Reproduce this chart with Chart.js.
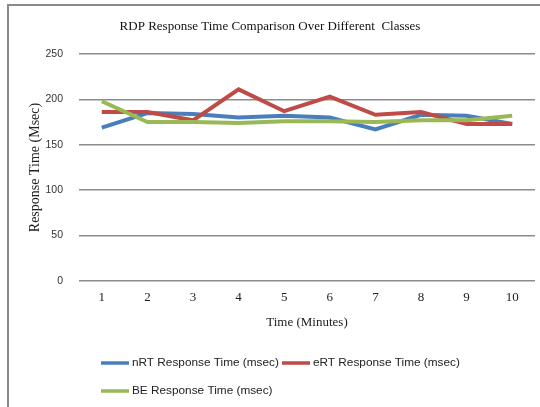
<!DOCTYPE html>
<html>
<head>
<meta charset="utf-8">
<script src="https://cdn.jsdelivr.net/npm/chart.js@4.4.1/dist/chart.umd.min.js"></script>
<style>
  html, body { margin: 0; padding: 0; background: #fff; }
  #wrap { position: relative; width: 540px; height: 407px; overflow: hidden; }
  #frame {
    position: absolute; left: 7px; top: 4px; width: 600px; height: 500px;
    border-left: 2px solid #8a8a8a; border-top: 2px solid #8a8a8a;
    box-sizing: border-box;
  }
  canvas { position: absolute; left: 0; top: 0; }
</style>
</head>
<body>
<div id="wrap">
  <div id="frame"></div>
  <canvas id="chart" width="540" height="407"></canvas>
</div>
<script>
/* ===============================
   Data
================================ */
const minutes = ["1", "2", "3", "4", "5", "6", "7", "8", "9", "10"];
const nrtTimes = [169, 185, 184, 180, 182, 180, 167, 183, 182, 173];
const ertTimes = [186, 186, 177, 211, 187, 203, 183, 186, 173, 173];
const beTimes  = [198, 175, 175, 174, 176, 176, 175, 177, 177, 182];
const yTicks   = [0, 50, 100, 150, 200, 250];

const chartTitle = "RDP Response Time Comparison Over Different  Classes";
const seriesNames = [
  "nRT Response Time (msec)",
  "eRT Response Time (msec)",
  "BE Response Time (msec)"
];

const SERIF = "'Liberation Serif', 'Times New Roman', serif";
const SANS = "'Liberation Sans', Arial, sans-serif";

/* ===============================
   Title + legend drawn by hand
================================ */
const decorPlugin = {
  id: "decor",
  afterDraw(chart) {
    const ctx = chart.ctx;
    ctx.save();

    // title
    ctx.font = "13px " + SERIF;
    ctx.fillStyle = "#111";
    ctx.textAlign = "center";
    ctx.textBaseline = "middle";
    ctx.fillText(chartTitle, 270, 27);

    // legend
    const spots = [
      { x: 101, y: 363 },
      { x: 282, y: 363 },
      { x: 101, y: 391 }
    ];
    ctx.font = "11.8px " + SANS;
    ctx.textAlign = "left";
    chart.data.datasets.forEach((ds, i) => {
      const p = spots[i];
      ctx.strokeStyle = ds.borderColor;
      ctx.lineWidth = 3.5;
      ctx.beginPath();
      ctx.moveTo(p.x, p.y);
      ctx.lineTo(p.x + 28, p.y);
      ctx.stroke();
      ctx.fillStyle = "#222";
      ctx.fillText(ds.label, p.x + 31, p.y);
    });

    ctx.restore();
  }
};

// later series sit on top, like the original
function lineSet(label, data, color, order) {
  return {
    label,
    data,
    order,
    borderColor: color,
    backgroundColor: color,
    borderWidth: 4,
    pointRadius: 0,
    tension: 0,
    fill: false
  };
}

new Chart(document.getElementById("chart"), {
  type: "line",
  data: {
    labels: minutes,
    datasets: [
      lineSet(seriesNames[0], nrtTimes, "#4a7ebb", 2),
      lineSet(seriesNames[1], ertTimes, "#be4b48", 1),
      lineSet(seriesNames[2], beTimes, "#98b954", 0)
    ]
  },
  options: {
    responsive: false,
    animation: false,
    layout: {
      padding: { left: 27, right: 5, top: 54, bottom: 77 }
    },
    plugins: {
      legend: { display: false },
      title: { display: false },
      tooltip: { enabled: false }
    },
    scales: {
      x: {
        offset: true,
        grid: { display: false, drawTicks: false },
        border: { display: false },
        ticks: {
          padding: 9,
          color: "#222",
          font: { family: SERIF, size: 13 }
        },
        title: {
          display: true,
          text: "Time (Minutes)",
          color: "#222",
          font: { family: SERIF, size: 13 },
          padding: 0
        },
        afterFit: (scale) => { scale.height = 49; }
      },
      y: {
        min: 0,
        max: 250,
        afterBuildTicks: (scale) => {
          scale.ticks = yTicks.map(v => ({ value: v }));
        },
        grid: { color: "#8c8c8c", lineWidth: 1.5, drawTicks: false },
        border: { display: false },
        ticks: {
          padding: 16,
          color: "#333",
          font: { family: SANS, size: 10.5 }
        },
        title: {
          display: true,
          text: "Response Time (Msec)",
          color: "#222",
          font: { family: SERIF, size: 14 },
          padding: 0
        },
        afterFit: (scale) => { scale.width = 52; }
      }
    }
  },
  plugins: [decorPlugin]
});
</script>
</body>
</html>
